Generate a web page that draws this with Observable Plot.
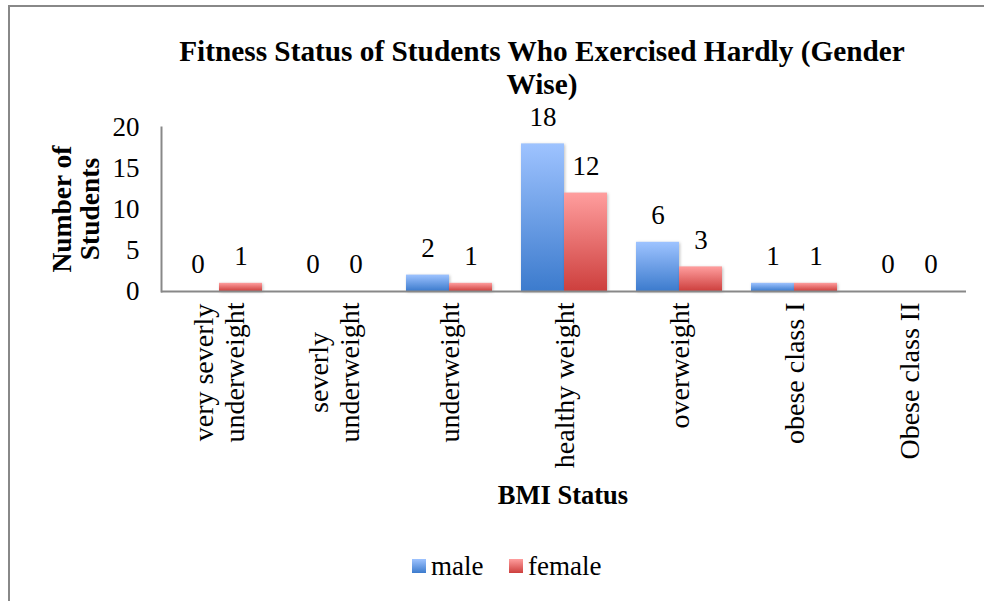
<!DOCTYPE html>
<html>
<head>
<meta charset="utf-8">
<script src="https://cdn.jsdelivr.net/npm/d3@7"></script>
<script src="https://cdn.jsdelivr.net/npm/@observablehq/plot@0.6"></script>
<style>
  body { margin: 0; background: #fff; }
  #wrap { position: relative; width: 984px; height: 601px; font-family: "Liberation Serif", "Times New Roman", serif; color: #000; overflow: hidden; }
  .abs { position: absolute; }
  #borderL { left: 8px; top: 5px; width: 2px; height: 600px; background: #888; }
  #borderT { left: 8px; top: 5px; width: 980px; height: 2px; background: #888; }
  #title { left: 92px; width: 900px; top: 35px; text-align: center; font-weight: bold; font-size: 29.3px; line-height: 33px; }
  #ylab { left: -24px; top: 181px; width: 200px; height: 56px; text-align: center; font-weight: bold; font-size: 27.5px; line-height: 28px; transform: rotate(-90deg); }
  #xlab { left: 463px; width: 200px; top: 480px; text-align: center; font-weight: bold; font-size: 26.5px; line-height: 30px; }
  .sw { width: 14px; height: 14px; top: 559px; }
  .lt { top: 551px; font-size: 27px; line-height: 30px; }
  #plot { left: 0; top: 0; }
  .bar rect { filter: drop-shadow(1px 1px 1.5px rgba(0,0,0,0.25)); }
</style>
</head>
<body>
<div id="wrap">
  <div id="borderL" class="abs"></div>
  <div id="borderT" class="abs"></div>
  <div id="plot" class="abs"></div>
  <div id="title" class="abs"></div>
  <div id="ylab" class="abs"></div>
  <div id="xlab" class="abs"></div>
  <div id="swM" class="abs sw" style="left:412px;background:linear-gradient(#9ec3ff,#3c7bcd);"></div>
  <div id="ltM" class="abs lt" style="left:431px;"></div>
  <div id="swF" class="abs sw" style="left:509px;background:linear-gradient(#ff9e9e,#cd3f3d);"></div>
  <div id="ltF" class="abs lt" style="left:528px;"></div>
</div>
<script>
const titleLines = ["Fitness Status of Students Who Exercised Hardly (Gender", "Wise)"];
const yTitleLines = ["Number of", "Students"];
const xTitle = "BMI Status";
const categories = ["very severly\nunderweight", "severly\nunderweight", "underweight", "healthy weight", "overweight", "obese class I", "Obese class II"];
const genders = ["male", "female"];
const male = [0, 0, 2, 18, 6, 1, 0];
const female = [1, 0, 1, 12, 3, 1, 0];
const yTicks = [0, 5, 10, 15, 20];

document.getElementById("title").innerHTML = titleLines.join("<br>");
document.getElementById("ylab").innerHTML = yTitleLines.join("<br>");
document.getElementById("xlab").textContent = xTitle;
document.getElementById("ltM").textContent = genders[0];
document.getElementById("ltF").textContent = genders[1];

const data = categories.flatMap((c, i) => [
  {cat: c, gender: genders[0], value: male[i]},
  {cat: c, gender: genders[1], value: female[i]}
]);
const maleData = data.filter(d => d.gender === "male");
const femaleData = data.filter(d => d.gender === "female");

const chart = Plot.plot({
  width: 984,
  height: 601,
  marginLeft: 161,
  marginRight: 18,
  marginTop: 127,
  marginBottom: 310,
  style: {fontFamily: "'Liberation Serif', 'Times New Roman', serif", fontSize: "27px", color: "#000", background: "transparent"},
  fx: {domain: categories, padding: 0, label: null},
  x: {domain: genders, paddingInner: 0, paddingOuter: 0.337, axis: null},
  y: {domain: [0, 20], axis: null},
  marks: [
    Plot.axisY({ticks: yTicks, tickSize: 0, tickPadding: 22, fontSize: 27, label: null}),
    Plot.axisFx({anchor: "bottom", tickRotate: -90, tickSize: 0, tickPadding: 11, fontSize: 28, lineHeight: 1.1, label: null}),
    Plot.barY(maleData, {fx: "cat", x: "gender", y: "value", fill: "url(#gradMale)", className: "bar"}),
    Plot.barY(femaleData, {fx: "cat", x: "gender", y: "value", fill: "url(#gradFemale)", className: "bar"}),
    Plot.ruleY([0], {stroke: "#888", strokeWidth: 2}),
    Plot.frame({anchor: "left", facetAnchor: "left", stroke: "#888", strokeWidth: 2}),
    Plot.text(data, {fx: "cat", x: "gender", y: "value", text: "value", dy: -27, fontSize: 27})
  ]
});

// gradients
const svg = chart.tagName.toLowerCase() === "svg" ? chart : chart.querySelector("svg");
const defs = d3.create("svg:defs");
const addGrad = (id, c0, c1) => {
  const g = defs.append("linearGradient").attr("id", id).attr("x1", 0).attr("y1", 0).attr("x2", 0).attr("y2", 1);
  g.append("stop").attr("offset", "0%").attr("stop-color", c0);
  g.append("stop").attr("offset", "100%").attr("stop-color", c1);
};
addGrad("gradMale", "#9ec3ff", "#3c7bcd");
addGrad("gradFemale", "#ff9e9e", "#cd3f3d");
svg.insertBefore(defs.node(), svg.firstChild);

document.getElementById("plot").appendChild(chart);

// center multi-line category labels relative to each other, keeping the top edge fixed
svg.querySelectorAll("g[aria-label='fx-axis tick label'] text").forEach(t => {
  const spans = t.querySelectorAll("tspan");
  if (spans.length > 1) {
    let L = 0;
    spans.forEach(s => { L = Math.max(L, s.getComputedTextLength()); });
    t.setAttribute("text-anchor", "middle");
    spans.forEach(s => s.setAttribute("x", -L / 2));
  }
});
</script>
</body>
</html>
